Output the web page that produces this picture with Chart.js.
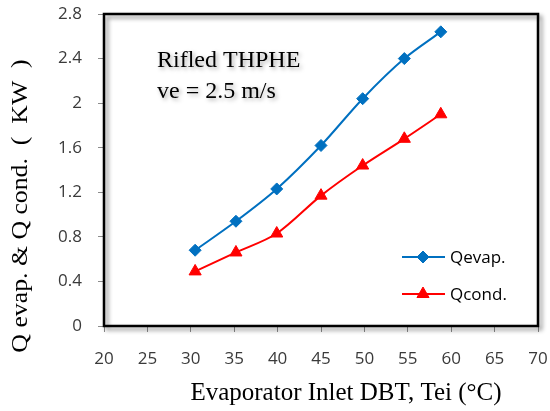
<!DOCTYPE html>
<html lang="en">
<head>
  <meta charset="UTF-8" />
  <title>Rifled THPHE</title>
  <script src="https://cdn.jsdelivr.net/npm/chart.js"></script>
  <style>
    html, body { margin: 0; padding: 0; background: #fff; }
    #wrap { width: 550px; height: 411px; position: relative; }
  </style>
</head>
<body>
  <div id="wrap"><canvas id="chart"></canvas></div>

  <script>
    // Inlet temperatures (°C) and heat loads (kW)
    const tempEvap = [30.5, 35.2, 39.9, 45.0, 49.8, 54.6, 58.8];
    const qEvap    = [0.68, 0.94, 1.23, 1.62, 2.04, 2.40, 2.64];
    const tempCond = [30.5, 35.2, 39.9, 45.0, 49.8, 54.6, 58.8];
    const qCond    = [0.49, 0.66, 0.83, 1.17, 1.44, 1.68, 1.90];

    const xTicks = [20, 25, 30, 35, 40, 45, 50, 55, 60, 65, 70];
    const yTicks = [0, 0.4, 0.8, 1.2, 1.6, 2, 2.4, 2.8];

    const BLUE = '#0070C0';
    const RED = '#FF0000';
    const sans = "'Open Sans', 'DejaVu Sans', sans-serif";
    const serif = "'Liberation Serif', 'DejaVu Serif', serif";
    const tickFont = { family: sans, size: 17 };

    const toPoints = (xs, ys) => xs.map((x, i) => ({ x: x, y: ys[i] }));

    // frame with a soft shadow, axis titles, note text and legend
    const decor = {
      id: 'decor',
      beforeDatasetsDraw(chart) {
        const { ctx, chartArea: a } = chart;
        ctx.save();
        ctx.shadowColor = 'rgba(0,0,0,0.45)';
        ctx.shadowOffsetX = 3;
        ctx.shadowOffsetY = 3;
        ctx.shadowBlur = 4;
        ctx.strokeStyle = '#000';
        ctx.lineWidth = 2.5;
        ctx.strokeRect(a.left, a.top, a.right - a.left, a.bottom - a.top);
        ctx.restore();
      },
      afterDatasetsDraw(chart) {
        const { ctx } = chart;

        // axis titles
        ctx.save();
        ctx.fillStyle = '#000';
        ctx.textAlign = 'center';
        ctx.textBaseline = 'middle';
        ctx.font = '25px ' + serif;
        ctx.fillText('Evaporator Inlet DBT, Tei (°C)', 346, 393);
        ctx.translate(21, 206);
        ctx.rotate(-Math.PI / 2);
        ctx.scale(1.12, 1);
        ctx.font = '23px ' + serif;
        ctx.fillText('Q evap. & Q cond.  (  KW  )', 0, 0);
        ctx.restore();

        // note in the corner
        ctx.save();
        ctx.font = '24px ' + serif;
        ctx.fillStyle = '#000';
        ctx.textBaseline = 'alphabetic';
        ctx.shadowColor = 'rgba(0,0,0,0.35)';
        ctx.shadowOffsetX = 2;
        ctx.shadowOffsetY = 2;
        ctx.shadowBlur = 4;
        ctx.fillText('Rifled THPHE', 157, 67);
        ctx.fillText('ve = 2.5 m/s', 157, 98);
        ctx.restore();

        // legend
        ctx.save();
        ctx.font = '17px ' + sans;
        ctx.textBaseline = 'middle';
        const rows = [{ y: 257, i: 0 }, { y: 294, i: 1 }];
        rows.forEach(r => {
          const ds = chart.data.datasets[r.i];
          ctx.strokeStyle = ds.borderColor;
          ctx.lineWidth = 2;
          ctx.beginPath();
          ctx.moveTo(402, r.y);
          ctx.lineTo(445, r.y);
          ctx.stroke();
          ctx.fillStyle = ds.backgroundColor;
          ctx.strokeStyle = ds.borderColor;
          ctx.lineWidth = 1;
          Chart.helpers.drawPoint(ctx, {
            pointStyle: ds.pointStyle,
            radius: ds.pointRadius,
            borderWidth: 1
          }, 423, r.y);
          ctx.fillStyle = '#000';
          ctx.fillText(ds.label, 450, r.y + 1);
        });
        ctx.restore();
      }
    };

    new Chart(document.getElementById('chart'), {
      type: 'line',
      data: {
        datasets: [
          {
            label: 'Qevap.',
            data: toPoints(tempEvap, qEvap),
            borderColor: BLUE,
            backgroundColor: BLUE,
            borderWidth: 2,
            pointStyle: 'rectRot',
            pointRadius: 6,
            pointBorderWidth: 1,
            tension: 0.3
          },
          {
            label: 'Qcond.',
            data: toPoints(tempCond, qCond),
            borderColor: RED,
            backgroundColor: RED,
            borderWidth: 2,
            pointStyle: 'triangle',
            pointRadius: 7,
            pointBorderWidth: 1,
            tension: 0.3
          }
        ]
      },
      options: {
        responsive: true,
        maintainAspectRatio: false,
        animation: false,
        layout: { padding: { top: 14, right: 12, left: 0, bottom: 0 } },
        plugins: {
          legend: { display: false },
          tooltip: { enabled: false }
        },
        scales: {
          x: {
            type: 'linear',
            min: 20,
            max: 70,
            afterBuildTicks: s => { s.ticks = xTicks.map(v => ({ value: v })); },
            afterFit: s => { s.height = 85; s.paddingLeft = 0; s.paddingRight = 0; },
            grid: { drawOnChartArea: false, color: '#8c8c8c', tickLength: 6 },
            border: { display: false },
            ticks: { color: '#3a3a3a', font: tickFont, padding: 17, maxRotation: 0 }
          },
          y: {
            min: 0,
            max: 2.8,
            afterBuildTicks: s => { s.ticks = yTicks.map(v => ({ value: v })); },
            afterFit: s => { s.width = 104; s.paddingTop = 0; s.paddingBottom = 0; },
            grid: { drawOnChartArea: false, color: '#8c8c8c', tickLength: 6 },
            border: { display: true, color: '#8c8c8c' },
            ticks: {
              color: '#3a3a3a',
              font: tickFont,
              padding: 16,
              callback: v => String(Math.round(v * 10) / 10)
            }
          }
        }
      },
      plugins: [decor]
    });
  </script>
</body>
</html>
